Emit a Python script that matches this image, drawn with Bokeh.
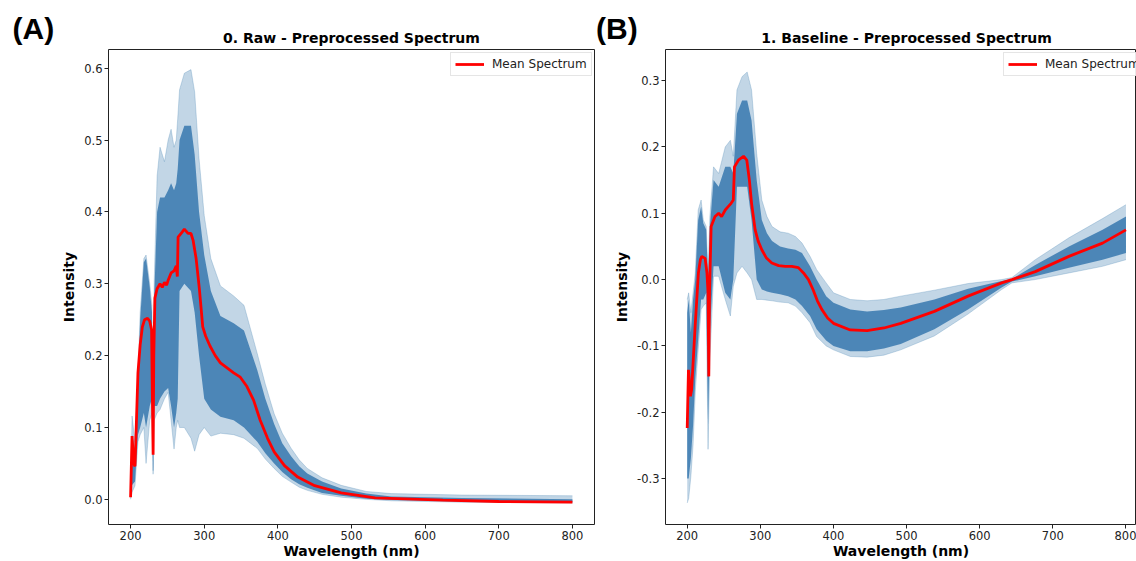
from bokeh.plotting import figure
from bokeh.layouts import row
from bokeh.models import Label, FixedTicker, PrintfTickFormatter, Range1d
from bokeh.embed import file_html
from bokeh.resources import INLINE

# ---------------- Panel A : Raw spectra ----------------
wl_env_a = [200, 202, 206, 210, 213, 218, 221, 226, 229, 230.6, 232, 236, 240, 246, 251, 255,
            259, 262, 264, 266.5, 273, 282, 287, 293, 300, 309, 322, 340, 354, 372, 383, 395,
            406, 418, 429, 440, 460, 486, 520, 554, 650, 800]
upper_a = [0.01, 0.116, 0.08, 0.17, 0.26, 0.335, 0.34, 0.30, 0.27, 0.04, 0.30, 0.45, 0.49, 0.47,
           0.50, 0.515, 0.49, 0.50, 0.53, 0.57, 0.593, 0.598, 0.567, 0.474, 0.395, 0.335, 0.297,
           0.283, 0.27, 0.203, 0.16, 0.119, 0.092, 0.071, 0.055, 0.043, 0.03, 0.0195, 0.011,
           0.008, 0.006, 0.005]
lower_a = [0.0, 0.01, 0.019, 0.08, 0.09, 0.10, 0.05, 0.11, 0.12, 0.035, 0.11, 0.12, 0.125, 0.14,
           0.149, 0.11, 0.07, 0.10, 0.11, 0.10, 0.10, 0.085, 0.067, 0.09, 0.10, 0.088, 0.092,
           0.09, 0.085, 0.071, 0.056, 0.043, 0.032, 0.024, 0.017, 0.0125, 0.007, 0.003, 0.0,
           -0.002, -0.004, -0.005]
core_hi_a = [0.01, 0.09, 0.07, 0.16, 0.25, 0.33, 0.335, 0.295, 0.26, 0.04, 0.28, 0.40, 0.42,
             0.42, 0.43, 0.44, 0.43, 0.44, 0.46, 0.50, 0.52, 0.52, 0.48, 0.40, 0.34, 0.29, 0.255,
             0.245, 0.235, 0.18, 0.14, 0.105, 0.078, 0.06, 0.046, 0.036, 0.025, 0.015, 0.008,
             0.004, 0.002, 0.0]
core_lo_a = [0.0, 0.02, 0.025, 0.09, 0.10, 0.12, 0.10, 0.13, 0.14, 0.04, 0.13, 0.13, 0.14,
             0.15, 0.155, 0.13, 0.10, 0.12, 0.14, 0.29, 0.30, 0.29, 0.26, 0.20, 0.14, 0.125,
             0.115, 0.11, 0.10, 0.08, 0.064, 0.05, 0.038, 0.028, 0.021, 0.016, 0.009, 0.005,
             0.001, -0.001, -0.003, -0.004]
wl_mean_a = [200, 202, 204, 206, 210, 213, 216, 219, 223, 226, 228.5, 229.5, 230.6, 231.5, 233,
             236, 240, 243, 246, 249, 251, 255, 259, 262, 263.5, 264.5, 270, 273, 278, 282, 285,
             289, 293.4, 298, 302, 308, 315, 322, 331, 340, 349, 358, 367, 376, 386, 395, 409,
             427, 450, 486, 532, 624, 700, 800]
mean_a = [0.003, 0.088, 0.05, 0.046, 0.176, 0.215, 0.24, 0.25, 0.252, 0.248, 0.236, 0.15, 0.062,
          0.2, 0.28, 0.293, 0.30, 0.295, 0.302, 0.298, 0.305, 0.315, 0.318, 0.325, 0.31, 0.365,
          0.372, 0.376, 0.37, 0.37, 0.36, 0.335, 0.293, 0.24, 0.227, 0.213, 0.20, 0.19, 0.183,
          0.176, 0.17, 0.157, 0.138, 0.11, 0.085, 0.066, 0.047, 0.031, 0.019, 0.009, 0.002,
          -0.001, -0.003, -0.004]

# ---------------- Panel B : Baseline corrected ----------------
wl_env_b = [200, 202, 205, 208, 211, 215, 219, 222, 226, 228.5, 231, 236, 243, 252, 259, 263,
            268, 275, 282, 288, 295, 302, 309, 316, 327, 338, 348, 357, 368, 377, 390, 400, 423,
            446, 469, 492, 538, 584, 630, 644, 676, 722, 768, 800]
upper_b = [-0.03, -0.02, -0.05, -0.02, 0.01, 0.105, 0.12, 0.09, 0.08, 0.01, 0.095, 0.17, 0.16,
           0.20, 0.21, 0.186, 0.286, 0.306, 0.313, 0.286, 0.19, 0.12, 0.095, 0.08, 0.072, 0.07,
           0.065, 0.055, 0.035, 0.015, -0.005, -0.02, -0.03, -0.032, -0.03, -0.025, -0.016,
           -0.006, 0.0, 0.003, 0.03, 0.063, 0.092, 0.113]
lower_b = [-0.337, -0.33, -0.297, -0.25, -0.17, -0.106, -0.045, -0.04, -0.035, -0.256, -0.12,
           0.005, 0.005, -0.03, -0.055, -0.01, 0.01, 0.02, 0.01, 0.0, -0.03, -0.03, -0.031,
           -0.032, -0.034, -0.035, -0.04, -0.05, -0.065, -0.086, -0.10, -0.106, -0.116, -0.117,
           -0.114, -0.106, -0.085, -0.052, -0.015, -0.005, 0.0, 0.01, 0.02, 0.03]
core_hi_b = [-0.05, -0.03, -0.08, -0.03, 0.0, 0.09, 0.11, 0.085, 0.075, 0.0, 0.08, 0.15, 0.14,
             0.17, 0.17, 0.16, 0.25, 0.27, 0.27, 0.24, 0.15, 0.09, 0.07, 0.058, 0.05, 0.047,
             0.045, 0.04, 0.02, 0.0, -0.025, -0.035, -0.045, -0.048, -0.046, -0.042, -0.03,
             -0.014, -0.002, 0.001, 0.022, 0.05, 0.075, 0.095]
core_lo_b = [-0.30, -0.30, -0.27, -0.22, -0.15, -0.09, -0.03, -0.03, -0.02, -0.22, -0.08, 0.02,
             0.02, -0.02, -0.03, 0.0, 0.14, 0.14, 0.14, 0.09, 0.0, -0.015, -0.018, -0.02,
             -0.022, -0.025, -0.03, -0.04, -0.055, -0.075, -0.092, -0.10, -0.108, -0.108,
             -0.104, -0.097, -0.075, -0.045, -0.012, -0.003, 0.005, 0.018, 0.03, 0.04]
wl_mean_b = [200, 201.7, 204.4, 206, 210.8, 215.3, 218, 220, 224.5, 227, 228.5, 229.5, 230.5,
             232.7, 238, 243, 247, 252, 256, 260, 263, 264.6, 270, 277, 281.5, 285, 288, 292.9,
             297, 302, 308, 315.7, 325, 334, 343, 352, 359, 365.8, 372, 378, 384, 392, 400, 423,
             446, 469, 492, 538, 584, 630, 644, 676, 722, 768, 800]
mean_b = [-0.224, -0.136, -0.176, -0.166, -0.071, 0.01, 0.03, 0.035, 0.032, 0.01, -0.02, -0.146,
          -0.02, 0.08, 0.095, 0.10, 0.095, 0.105, 0.11, 0.115, 0.12, 0.17, 0.18, 0.186, 0.18,
          0.15, 0.115, 0.075, 0.058, 0.045, 0.033, 0.025, 0.021, 0.02, 0.02, 0.018, 0.01, 0.0,
          -0.015, -0.032, -0.045, -0.058, -0.066, -0.076, -0.077, -0.073, -0.066, -0.048,
          -0.025, -0.005, 0.0, 0.012, 0.035, 0.055, 0.075]

x_ticks = [200, 300, 400, 500, 600, 700, 800]
y_ticks_a = [0.0, 0.1, 0.2, 0.3, 0.4, 0.5, 0.6]
y_ticks_b = [-0.3, -0.2, -0.1, 0.0, 0.1, 0.2, 0.3]

BLUE = "#4682b4"
RED = "#ff0000"
FONT = "DejaVu Sans"


def make_panel(title, width, border_left, border_right, xr, yr, yticks,
               wl_env, upper, lower, core_hi, core_lo, wl_mean, mean,
               tag, tag_xy, title_xy, legend_xy):
    p = figure(width=width, height=561, x_range=Range1d(*xr), y_range=Range1d(*yr),
               output_backend="svg", toolbar_location=None,
               min_border_left=border_left, min_border_right=border_right,
               min_border_top=49, min_border_bottom=36)
    p.xgrid.visible = False
    p.ygrid.visible = False
    p.outline_line_color = "#222222"
    p.outline_line_alpha = 1
    p.outline_line_width = 1
    p.background_fill_color = "white"
    p.border_fill_color = "white"

    for ax in (p.xaxis[0], p.yaxis[0]):
        ax.axis_line_color = None
        ax.major_tick_out = 4
        ax.major_tick_in = 0
        ax.minor_tick_line_color = None
        ax.major_tick_line_color = "#222222"
        ax.major_label_text_font = FONT
        ax.major_label_text_font_size = "11.5px"
        ax.major_label_text_color = "#222222"
        ax.major_label_standoff = 2
        ax.axis_label_text_font = FONT
        ax.axis_label_text_font_style = "bold"
        ax.axis_label_text_font_size = "14px"
        ax.axis_label_text_color = "black"
        ax.axis_label_standoff = 0
    p.xaxis[0].ticker = FixedTicker(ticks=x_ticks)
    p.xaxis[0].formatter = PrintfTickFormatter(format="%d")
    p.yaxis[0].ticker = FixedTicker(ticks=yticks)
    p.yaxis[0].formatter = PrintfTickFormatter(format="%.1f")
    p.yaxis[0].axis_label_standoff = 4
    p.xaxis[0].axis_label = "Wavelength (nm)"
    p.yaxis[0].axis_label = "Intensity"

    # spread of the individual spectra: full envelope (sparse lines) and dense core
    p.varea(x=wl_env, y1=lower, y2=upper, fill_color=BLUE, fill_alpha=0.33)
    p.line(x=wl_env, y=upper, line_color=BLUE, line_alpha=0.35, line_width=0.8)
    p.line(x=wl_env, y=lower, line_color=BLUE, line_alpha=0.35, line_width=0.8)
    p.varea(x=wl_env, y1=core_lo, y2=core_hi, fill_color=BLUE, fill_alpha=0.95)

    p.line(x=wl_mean, y=mean, line_color=RED, line_width=2.8, legend_label="Mean Spectrum")

    lg = p.legend[0]
    lg.location = legend_xy
    lg.margin = 0
    lg.padding = 4
    lg.spacing = 0
    lg.glyph_width = 29
    lg.glyph_height = 14
    lg.label_height = 14
    lg.label_standoff = 8
    lg.label_text_font = FONT
    lg.label_text_font_size = "12px"
    lg.label_text_color = "#222222"
    lg.border_line_color = "#cccccc"
    lg.border_line_width = 1
    lg.background_fill_color = "white"
    lg.background_fill_alpha = 0.9

    # texts above the frame live in the "above" side panel (side panels are not clipped)
    p.add_layout(Label(x=title_xy[0], y=title_xy[1], text=title,
                       text_font=FONT, text_font_size="14px", text_font_style="bold",
                       text_color="black", text_baseline="middle", text_align="center"),
                 "above")
    p.add_layout(Label(x=tag_xy[0], y=tag_xy[1], text=tag,
                       text_font="Liberation Sans", text_font_size="30px",
                       text_font_style="bold", text_color="black",
                       text_baseline="middle", text_align="left"),
                 "above")
    return p


pa = make_panel("0. Raw - Preprocessed Spectrum", 595, 108, 1, (170, 830), (-0.035, 0.626),
                y_ticks_a, wl_env_a, upper_a, lower_a, core_hi_a, core_lo_a, wl_mean_a, mean_a,
                "(A)", (39.6, 0.6558), (500, 0.6417), (342, 448))
pb = make_panel("1. Baseline - Preprocessed Spectrum", 541, 70, 0, (170.3, 814.4),
                (-0.3694, 0.347), y_ticks_b, wl_env_b, upper_b, lower_b, core_hi_b, core_lo_b,
                wl_mean_b, mean_b, "(B)", (75.4, 0.3792), (500, 0.3639), (338, 448))

layout = row(pa, pb)
open("out.html", "w").write(file_html(layout, INLINE))
